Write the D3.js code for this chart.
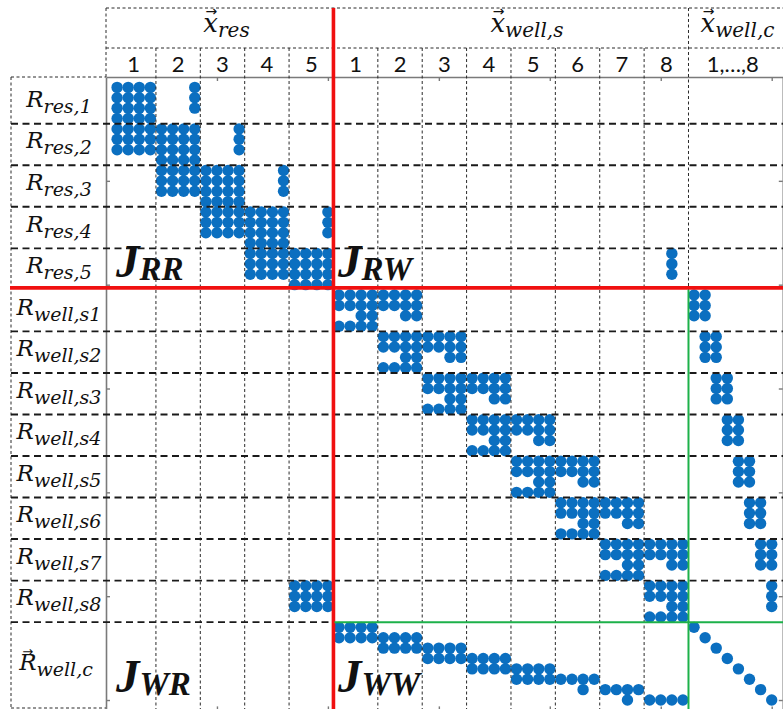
<!DOCTYPE html>
<html>
<head>
<meta charset="utf-8">
<script src="https://cdn.jsdelivr.net/npm/d3@7/dist/d3.min.js"></script>
<style>
  html, body { margin: 0; padding: 0; background: #fff; }
  svg { display: block; }
</style>
</head>
<body>
<svg id="chart" width="783" height="709"></svg>
<script>
// Sparsity pattern of the coupled reservoir / multi-segment well Jacobian.
// '#' = structurally non-zero entry, '.' = zero. Spaces and '|' only group columns:
// 5 reservoir cells x 4 unknowns | 8 well segments x 4 unknowns | 8 connection unknowns.
const resRows = [
  "#### ...# .... .... .... | .... .... .... .... .... .... .... .... | .... ....",
  "#### ...# .... .... .... | .... .... .... .... .... .... .... .... | .... ....",
  "#### ...# .... .... .... | .... .... .... .... .... .... .... .... | .... ....",
  "#### .... .... .... .... | .... .... .... .... .... .... .... .... | .... ....",
  "#### #### ...# .... .... | .... .... .... .... .... .... .... .... | .... ....",
  "#### #### ...# .... .... | .... .... .... .... .... .... .... .... | .... ....",
  "#### #### ...# .... .... | .... .... .... .... .... .... .... .... | .... ....",
  ".... #### .... .... .... | .... .... .... .... .... .... .... .... | .... ....",
  ".... #### #### ...# .... | .... .... .... .... .... .... .... .... | .... ....",
  ".... #### #### ...# .... | .... .... .... .... .... .... .... .... | .... ....",
  ".... #### #### ...# .... | .... .... .... .... .... .... .... .... | .... ....",
  ".... .... #### .... .... | .... .... .... .... .... .... .... .... | .... ....",
  ".... .... #### #### ...# | .... .... .... .... .... .... .... .... | .... ....",
  ".... .... #### #### ...# | .... .... .... .... .... .... .... .... | .... ....",
  ".... .... #### #### ...# | .... .... .... .... .... .... .... .... | .... ....",
  ".... .... .... #### .... | .... .... .... .... .... .... .... .... | .... ....",
  ".... .... .... #### #### | .... .... .... .... .... .... .... ..#. | .... ....",
  ".... .... .... #### #### | .... .... .... .... .... .... .... ..#. | .... ....",
  ".... .... .... #### #### | .... .... .... .... .... .... .... ..#. | .... ....",
  ".... .... .... .... #### | .... .... .... .... .... .... .... .... | .... ...."
];

const wellRows = [
  ".... .... .... .... .... | #### #### .... .... .... .... .... .... | ##.. ....",
  ".... .... .... .... .... | #### #### .... .... .... .... .... .... | ##.. ....",
  ".... .... .... .... .... | ..## ..## .... .... .... .... .... .... | ##.. ....",
  ".... .... .... .... .... | #### .... .... .... .... .... .... .... | .... ....",
  ".... .... .... .... .... | .... #### #### .... .... .... .... .... | .##. ....",
  ".... .... .... .... .... | .... #### #### .... .... .... .... .... | .##. ....",
  ".... .... .... .... .... | .... ..## ..## .... .... .... .... .... | .##. ....",
  ".... .... .... .... .... | .... #### .... .... .... .... .... .... | .... ....",
  ".... .... .... .... .... | .... .... #### #### .... .... .... .... | ..## ....",
  ".... .... .... .... .... | .... .... #### #### .... .... .... .... | ..## ....",
  ".... .... .... .... .... | .... .... ..## ..## .... .... .... .... | ..## ....",
  ".... .... .... .... .... | .... .... #### .... .... .... .... .... | .... ....",
  ".... .... .... .... .... | .... .... .... #### #### .... .... .... | ...# #...",
  ".... .... .... .... .... | .... .... .... #### #### .... .... .... | ...# #...",
  ".... .... .... .... .... | .... .... .... ..## ..## .... .... .... | ...# #...",
  ".... .... .... .... .... | .... .... .... #### .... .... .... .... | .... ....",
  ".... .... .... .... .... | .... .... .... .... #### #### .... .... | .... ##..",
  ".... .... .... .... .... | .... .... .... .... #### #### .... .... | .... ##..",
  ".... .... .... .... .... | .... .... .... .... ..## ..## .... .... | .... ##..",
  ".... .... .... .... .... | .... .... .... .... #### .... .... .... | .... ....",
  ".... .... .... .... .... | .... .... .... .... .... #### #### .... | .... .##.",
  ".... .... .... .... .... | .... .... .... .... .... #### #### .... | .... .##.",
  ".... .... .... .... .... | .... .... .... .... .... ..## ..## .... | .... .##.",
  ".... .... .... .... .... | .... .... .... .... .... #### .... .... | .... ....",
  ".... .... .... .... .... | .... .... .... .... .... .... #### #### | .... ..##",
  ".... .... .... .... .... | .... .... .... .... .... .... #### #### | .... ..##",
  ".... .... .... .... .... | .... .... .... .... .... .... ..## ..## | .... ..##",
  ".... .... .... .... .... | .... .... .... .... .... .... #### .... | .... ....",
  ".... .... .... .... #### | .... .... .... .... .... .... .... #### | .... ...#",
  ".... .... .... .... #### | .... .... .... .... .... .... .... #### | .... ...#",
  ".... .... .... .... #### | .... .... .... .... .... .... .... ..## | .... ...#",
  ".... .... .... .... .... | .... .... .... .... .... .... .... #### | .... ...."
];

const connRows = [
  ".... .... .... .... .... | #### .... .... .... .... .... .... .... | #... ....",
  ".... .... .... .... .... | #### #### .... .... .... .... .... .... | .#.. ....",
  ".... .... .... .... .... | .... #### #### .... .... .... .... .... | ..#. ....",
  ".... .... .... .... .... | .... .... #### #### .... .... .... .... | ...# ....",
  ".... .... .... .... .... | .... .... .... #### #### .... .... .... | .... #...",
  ".... .... .... .... .... | .... .... .... .... #### #### .... .... | .... .#..",
  ".... .... .... .... .... | .... .... .... .... .... ..#. #### .... | .... ..#.",
  ".... .... .... .... .... | .... .... .... .... .... .... ..#. #### | .... ...#"
];

// Block structure (number of matrix rows/columns per block)
const resCellLabels = ["1", "2", "3", "4", "5"];
const wellSegLabels = ["1", "2", "3", "4", "5", "6", "7", "8"];
const connColLabel = "1,\u2026,8";
const unknownsPerBlock = 4;
const nConn = 8;
const resRowSubs = ["res,1", "res,2", "res,3", "res,4", "res,5"];
const wellRowSubs = ["well,s1", "well,s2", "well,s3", "well,s4", "well,s5", "well,s6", "well,s7", "well,s8"];
const connRowSub = "well,c";
const subBlockLabels = [
  { main: "J", sub: "RR", row: 20, col: 0 },
  { main: "J", sub: "RW", row: 20, col: 20 },
  { main: "J", sub: "WR", row: 60, col: 0 },
  { main: "J", sub: "WW", row: 60, col: 20 }
];
const tickVals = [10, 20, 30, 40, 50, 60];

// ---------------------------------------------------------------------------
const allRows = resRows.concat(wellRows, connRows).map(s => s.replace(/[^#.]/g, ""));
const N = allRows.length; // 60
const entries = [];
allRows.forEach((s, i) => {
  for (let j = 0; j < s.length; j++) if (s[j] === "#") entries.push({ row: i + 1, col: j + 1 });
});

const W = 783, H = 709;
const svg = d3.select("#chart");

// spy-style axes: limits 0..N+1
const x = d3.scaleLinear().domain([0, N + 1]).range([106, 782.8]);
const y = d3.scaleLinear().domain([0, N + 1]).range([77, 710.4]);

const nRes = resCellLabels.length * unknownsPerBlock;          // 20
const nWell = wellSegLabels.length * unknownsPerBlock;         // 32
const wellEnd = nRes + nWell;                                  // 52

const resBounds = d3.range(0, nRes + 1, unknownsPerBlock);          // 0..20
const wellBounds = d3.range(nRes, wellEnd + 1, unknownsPerBlock);   // 20..52

const headerTop = 8, headerMid = 48, leftEdge = 11;
const mathFont = "'DejaVu Serif', serif";
const numFont = "Lato, 'Open Sans', sans-serif";

// --- axis box with inward ticks (spy plot frame) ---
const axisColor = "#7a7a7a";
function styleAxis(g) {
  g.selectAll("path").attr("stroke", axisColor).attr("stroke-width", 1.6);
  g.selectAll("line").attr("stroke", axisColor).attr("stroke-width", 1.4);
  g.selectAll("text").remove();
}
svg.append("g").attr("transform", `translate(0,${y(0)})`)
  .call(d3.axisTop(x).tickValues(tickVals).tickSizeInner(-4).tickSizeOuter(0).tickFormat(""))
  .call(styleAxis);
svg.append("g").attr("transform", `translate(0,${y(N + 1)})`)
  .call(d3.axisBottom(x).tickValues(tickVals).tickSizeInner(-4).tickSizeOuter(0).tickFormat(""))
  .call(styleAxis);
svg.append("g").attr("transform", `translate(${x(0)},0)`)
  .call(d3.axisLeft(y).tickValues(tickVals).tickSizeInner(-4).tickSizeOuter(0).tickFormat(""))
  .call(styleAxis);
svg.append("g").attr("transform", `translate(${x(N + 1)},0)`)
  .call(d3.axisRight(y).tickValues(tickVals).tickSizeInner(-4).tickSizeOuter(0).tickFormat(""))
  .call(styleAxis);

// --- non-zero entries ---
svg.append("g").selectAll("circle").data(entries).join("circle")
  .attr("cx", d => x(d.col))
  .attr("cy", d => y(d.row))
  .attr("r", 5.7)
  .attr("fill", "#0b6fc0");

// --- grid overlay ---
const grid = svg.append("g");
const thin = sel => sel.attr("stroke", "#2a2a2a").attr("stroke-width", 1).attr("stroke-dasharray", "3,2.5");
const thick = sel => sel.attr("stroke", "#1a1a1a").attr("stroke-width", 1.9).attr("stroke-dasharray", "7,4.5");

// vertical block boundaries inside each column group
const innerCols = resBounds.slice(1, -1).concat(wellBounds.slice(1, -1));
grid.selectAll("line.vc").data(innerCols).join("line").attr("class", "vc")
  .attr("x1", d => x(d + 0.5)).attr("x2", d => x(d + 0.5))
  .attr("y1", headerMid).attr("y2", H)
  .call(thin);

// header frame
grid.append("line").attr("x1", x(0)).attr("x2", W).attr("y1", headerTop).attr("y2", headerTop).call(thin);
grid.append("line").attr("x1", x(0)).attr("x2", W).attr("y1", headerMid).attr("y2", headerMid).call(thin);
grid.append("line").attr("x1", x(0)).attr("x2", x(0)).attr("y1", headerTop).attr("y2", y(0)).call(thin);
grid.append("line").attr("x1", x(wellEnd + 0.5)).attr("x2", x(wellEnd + 0.5))
  .attr("y1", headerTop).attr("y2", y(nRes + 0.5)).call(thin);

// row-label column frame
grid.append("line").attr("x1", leftEdge).attr("x2", leftEdge).attr("y1", y(0)).attr("y2", H).call(thin);
grid.append("line").attr("x1", leftEdge).attr("x2", x(0)).attr("y1", y(0)).attr("y2", y(0)).call(thin);
grid.append("line").attr("x1", leftEdge).attr("x2", x(0)).attr("y1", H - 1).attr("y2", H - 1).call(thin);

// horizontal block boundaries
const innerRows = resBounds.slice(1, -1).concat(wellBounds.slice(1, -1));
grid.selectAll("line.hr").data(innerRows).join("line").attr("class", "hr")
  .attr("x1", leftEdge).attr("x2", W)
  .attr("y1", d => y(d + 0.5)).attr("y2", d => y(d + 0.5))
  .call(thick);
grid.append("line").attr("x1", leftEdge).attr("x2", x(nRes + 0.5))
  .attr("y1", y(wellEnd + 0.5)).attr("y2", y(wellEnd + 0.5)).call(thick);

// sub-matrix partitions
const red = "#f01010", green = "#1db14a";
grid.append("line").attr("x1", x(nRes + 0.5)).attr("x2", x(nRes + 0.5))
  .attr("y1", headerTop).attr("y2", H)
  .attr("stroke", red).attr("stroke-width", 3.6);
grid.append("line").attr("x1", leftEdge - 1).attr("x2", W)
  .attr("y1", y(nRes + 0.5) - 2).attr("y2", y(nRes + 0.5) - 2)
  .attr("stroke", red).attr("stroke-width", 3.6);
grid.append("line").attr("x1", x(wellEnd + 0.5)).attr("x2", x(wellEnd + 0.5))
  .attr("y1", y(nRes + 0.5)).attr("y2", H)
  .attr("stroke", green).attr("stroke-width", 2);
grid.append("line").attr("x1", x(nRes + 0.5) + 1).attr("x2", W)
  .attr("y1", y(wellEnd + 0.5)).attr("y2", y(wellEnd + 0.5))
  .attr("stroke", green).attr("stroke-width", 2);

// --- labels ---
const labels = svg.append("g");

// main symbol with subscript, optional vector arrow over the main symbol
function mathLabel(px, py, main, sub, o) {
  const t = labels.append("text")
    .attr("x", px).attr("y", py)
    .attr("text-anchor", o.anchor || "middle")
    .attr("font-family", o.family || mathFont)
    .attr("font-style", "italic")
    .attr("font-weight", o.weight || "normal")
    .attr("fill", "#111");
  t.append("tspan").attr("font-size", o.mainSize).text(main);
  t.append("tspan").attr("font-size", o.subSize).attr("dy", o.dy).text(sub);
  if (o.arrow) {
    const b = t.node().getExtentOfChar(0);
    labels.append("text")
      .attr("x", b.x + b.width * 0.55 + (o.arrowShift || 0))
      .attr("y", b.y + b.height * 0.28)
      .attr("text-anchor", "middle")
      .attr("font-family", "'DejaVu Sans', sans-serif")
      .attr("font-size", o.arrowSize || 13)
      .attr("fill", "#111")
      .text("\u2192");
  }
  return t;
}

// column-group headings
const headY = 32;
const headOpts = { mainSize: 26, subSize: 20, dy: 5, arrow: true, arrowSize: 14 };
mathLabel(x(nRes / 2 + 0.5) + 4, headY, "x", "res", headOpts);
mathLabel(x((nRes + wellEnd) / 2 + 0.5) + 16, headY, "x", "well,s", headOpts);
mathLabel(x(wellEnd + 0.5) + 12, headY, "x", "well,c", Object.assign({ anchor: "start" }, headOpts));

// column numbers
const numY = 72, numSize = 22;
labels.selectAll("text.rn").data(resCellLabels).join("text").attr("class", "rn")
  .attr("x", (d, i) => x(i * unknownsPerBlock + 2.5)).attr("y", numY)
  .attr("text-anchor", "middle").attr("font-family", numFont).attr("font-size", numSize).attr("fill", "#111")
  .text(d => d);
labels.selectAll("text.wn").data(wellSegLabels).join("text").attr("class", "wn")
  .attr("x", (d, i) => x(nRes + i * unknownsPerBlock + 2.5)).attr("y", numY)
  .attr("text-anchor", "middle").attr("font-family", numFont).attr("font-size", numSize).attr("fill", "#111")
  .text(d => d);
labels.append("text")
  .attr("x", x(wellEnd + nConn / 2 + 0.5)).attr("y", numY)
  .attr("text-anchor", "middle").attr("font-family", numFont).attr("font-size", numSize).attr("fill", "#111")
  .text(connColLabel);

// row labels
const labelX = 59;
const rowOpts = { mainSize: 23, subSize: 19, dy: 6 };
resRowSubs.forEach((s, i) => {
  mathLabel(labelX, y(i * unknownsPerBlock + 2.5) + 4, "R", s, rowOpts);
});
wellRowSubs.forEach((s, i) => {
  mathLabel(labelX, y(nRes + i * unknownsPerBlock + 2.5) + 4, "R", s, rowOpts);
});
mathLabel(labelX - 3, y(wellEnd + nConn / 2 + 0.5) + 6, "R", connRowSub,
  Object.assign({ arrow: true, arrowShift: -1 }, rowOpts));

// sub-matrix names
subBlockLabels.forEach(d => {
  mathLabel(x(d.col) + 10, y(d.row) - 8, d.main, d.sub, {
    anchor: "start", family: "'Liberation Serif', serif", weight: "bold",
    mainSize: 47, subSize: 33, dy: 3
  });
});
</script>
</body>
</html>
